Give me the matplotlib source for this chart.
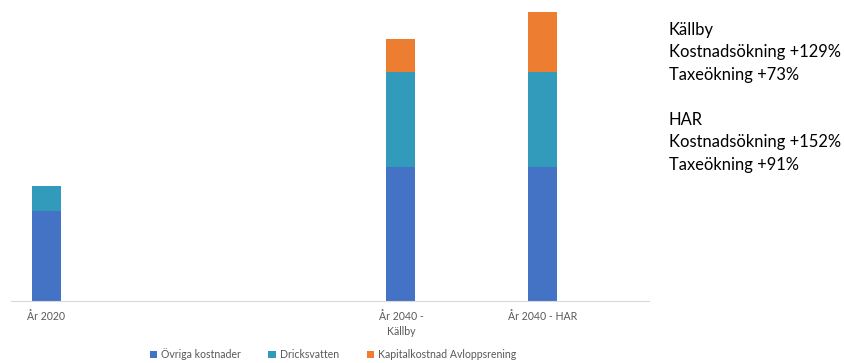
import matplotlib.pyplot as plt
import numpy as np

plt.rcParams['font.family'] = ['Lato', 'DejaVu Sans']

# category slots (Excel chart keeps empty slots between the bars)
categories = ["År 2020", "", "", "", "", "År 2040 -\nKällby", "", "År 2040 - HAR", ""]
ovriga     = [90, 0, 0, 0, 0, 134, 0, 134, 0]
dricks     = [25, 0, 0, 0, 0, 95, 0, 95, 0]
kapital    = [0, 0, 0, 0, 0, 33, 0, 60, 0]
series_names = ["Övriga kostnader", "Dricksvatten", "Kapitalkostnad Avloppsrening"]
colors = ["#4472C4", "#329ABA", "#ED7D31"]

side_text = ["Källby", "Kostnadsökning +129%", "Taxeökning +73%", "",
             "HAR", "Kostnadsökning +152%", "Taxeökning +91%"]

fig = plt.figure(figsize=(8.44, 3.63), dpi=100)
ax = fig.add_axes([11/844, 62/363, 638/844, 291/363])

x = np.arange(len(categories))
b1 = np.array(ovriga)
b2 = np.array(dricks)
b3 = np.array(kapital)
w = 0.41
ax.bar(x, b1, w, color=colors[0], label=series_names[0])
ax.bar(x, b2, w, bottom=b1, color=colors[1], label=series_names[1])
ax.bar(x, b3, w, bottom=b1 + b2, color=colors[2], label=series_names[2])

ax.set_xlim(-0.5, len(categories) - 0.5)
ax.set_ylim(0, 291)
ax.set_xticks(x)
ax.set_xticklabels(categories, fontsize=7.6, color="#595959", linespacing=1.5)
ax.tick_params(axis="x", length=0, pad=7)
ax.set_yticks([])
for s in ["top", "left", "right"]:
    ax.spines[s].set_visible(False)
ax.spines["bottom"].set_color("#D9D9D9")

fig.legend(loc="center", bbox_to_anchor=(333/844, 1 - 354/363), ncol=3,
           frameon=False, fontsize=7.6, handlelength=0.7, handleheight=0.7,
           handletextpad=0.4, columnspacing=2.6, labelcolor="#595959")

y0 = 30
for i, line in enumerate(side_text):
    fig.text(669/844, 1 - (y0 + i * 22.5)/363, line, fontsize=11.9,
             va="center", ha="left", color="black")

fig.savefig("out.png", dpi=100)
